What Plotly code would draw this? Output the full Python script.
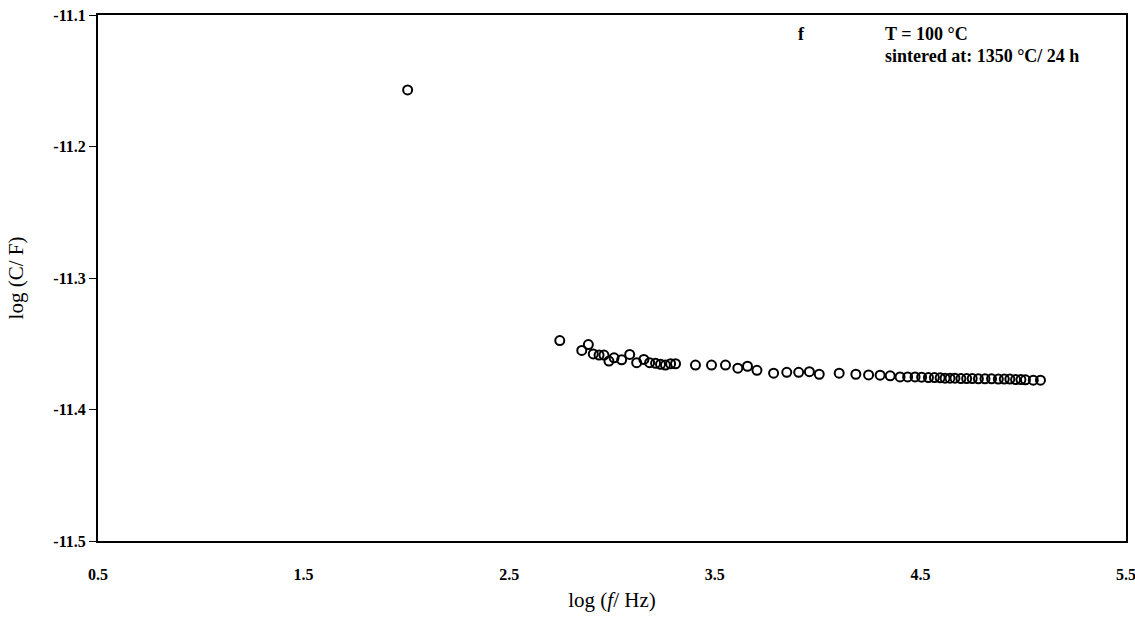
import plotly.graph_objects as go

log_f = [2.006, 2.746, 2.853, 2.885, 2.909, 2.937, 2.961, 2.985, 3.010, 3.047, 3.086,
         3.120, 3.155, 3.183, 3.212, 3.236, 3.260, 3.285, 3.309, 3.406, 3.484, 3.552,
         3.612, 3.659, 3.705, 3.786, 3.850, 3.908, 3.960, 4.008, 4.105, 4.186, 4.248,
         4.304, 4.353, 4.401, 4.438, 4.474, 4.506, 4.539, 4.568, 4.596, 4.620, 4.644,
         4.668, 4.697, 4.725, 4.752, 4.782, 4.814, 4.846, 4.879, 4.908, 4.935, 4.963,
         4.989, 5.011, 5.049, 5.084]
log_C = [-11.157, -11.3476, -11.3551, -11.3506, -11.3577, -11.3586, -11.3586, -11.3632,
         -11.3607, -11.3622, -11.3581, -11.3644, -11.3619, -11.3644, -11.3649, -11.3656,
         -11.3662, -11.3652, -11.3652, -11.3662, -11.3662, -11.3662, -11.3686, -11.3671,
         -11.3702, -11.3724, -11.3717, -11.3717, -11.3712, -11.3732, -11.3724, -11.3732,
         -11.3737, -11.3739, -11.3744, -11.3752, -11.3752, -11.3752, -11.3754, -11.3757,
         -11.3757, -11.3759, -11.3762, -11.3762, -11.3762, -11.3765, -11.3765, -11.3765,
         -11.3767, -11.3767, -11.3767, -11.3769, -11.3769, -11.3769, -11.3772, -11.3772,
         -11.3774, -11.3777, -11.3777]

x_ticks = [0.5, 1.5, 2.5, 3.5, 4.5, 5.5]
x_tick_labels = ["0.5", "1.5", "2.5", "3.5", "4.5", "5.5"]
y_ticks = [-11.5, -11.4, -11.3, -11.2, -11.1]
y_tick_labels = ["-11.5", "-11.4", "-11.3", "-11.2", "-11.1"]

serif = "Liberation Serif"
tick_font = dict(family=serif, size=16, weight="bold")

fig = go.Figure()
fig.add_trace(go.Scatter(
    x=log_f, y=log_C, mode="markers",
    marker=dict(symbol="circle-open", size=9, color="black", line=dict(width=2, color="black")),
    showlegend=False,
))

annotations = [
    dict(text="<b>f</b>", x=3.92, y=0.964, xref="x", yref="paper",
         showarrow=False, xanchor="center", yanchor="middle",
         font=dict(family=serif, size=18)),
    dict(text="<b>T = 100 °C</b>", x=4.32, y=0.964, xref="x", yref="paper",
         showarrow=False, xanchor="left", yanchor="middle",
         font=dict(family=serif, size=18)),
    dict(text="<b>sintered at: 1350 °C/ 24 h</b>", x=4.32, y=0.922, xref="x", yref="paper",
         showarrow=False, xanchor="left", yanchor="middle",
         font=dict(family=serif, size=18)),
    # last x tick label, drawn so that it may run off the page edge as in the original
    dict(text=x_tick_labels[-1], x=x_ticks[-1], y=0, xref="x", yref="paper",
         showarrow=False, xanchor="center", yanchor="top", yshift=-23,
         font=tick_font),
]

fig.update_layout(
    width=1135, height=617,
    margin=dict(l=98, r=7, t=14, b=76),
    paper_bgcolor="white", plot_bgcolor="white",
    font=dict(family=serif, color="black"),
    xaxis=dict(
        range=[0.5, 5.5], tickvals=x_ticks[:-1], ticktext=x_tick_labels[:-1],
        showgrid=False, zeroline=False, showline=True, linecolor="black", linewidth=2,
        mirror=True, ticks="", ticklabelstandoff=18, tickfont=tick_font,
        title=dict(text="log (<i>f</i>/ Hz)", font=dict(family=serif, size=21), standoff=10),
    ),
    yaxis=dict(
        range=[-11.5, -11.1], tickvals=y_ticks, ticktext=y_tick_labels,
        showgrid=False, zeroline=False, showline=True, linecolor="black", linewidth=2,
        mirror=True, ticks="outside", ticklen=7, tickcolor="black", tickwidth=1,
        tickfont=tick_font,
        title=dict(text="log (C/ F)", font=dict(family=serif, size=21), standoff=24),
    ),
    annotations=annotations,
)

fig.write_html("out.html")
